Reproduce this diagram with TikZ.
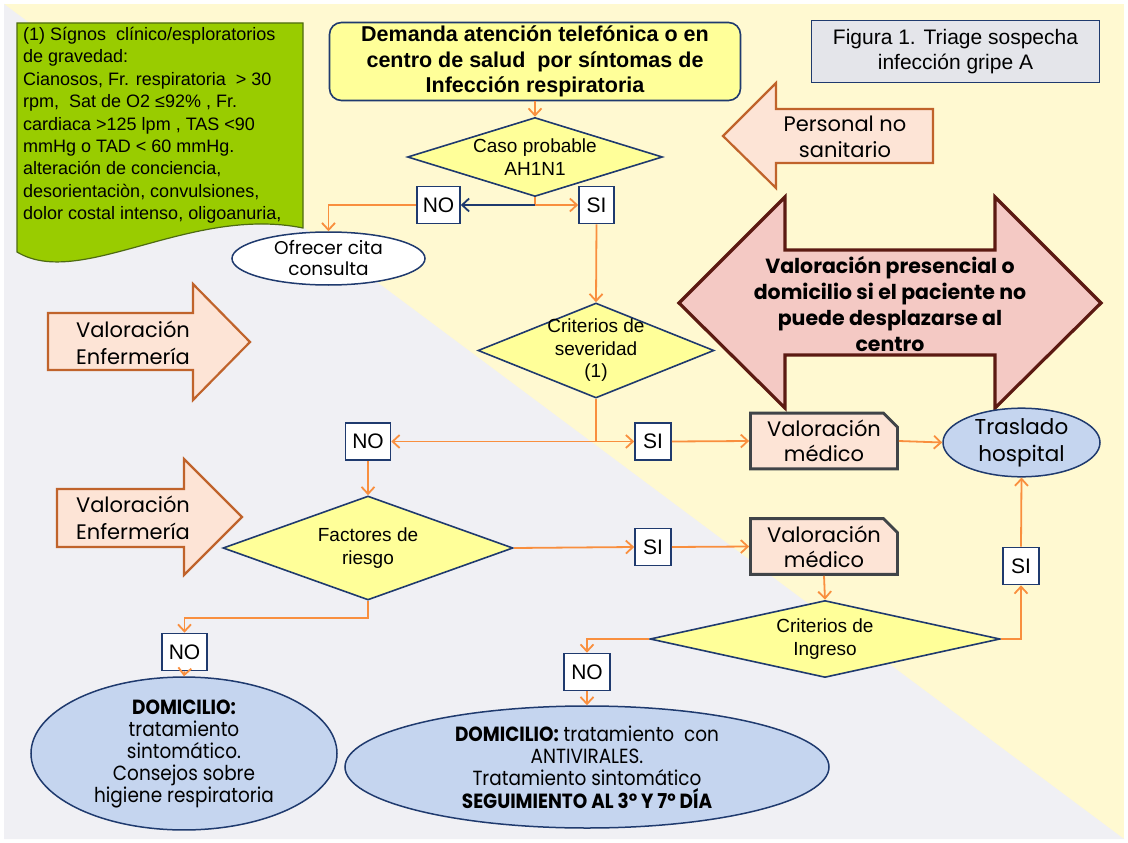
\documentclass[tikz,border=0pt]{standalone}
\usepackage{fontspec}
\setmainfont{Liberation Sans}
\newfontfamily\gothic{Poppins}
\newfontfamily\gothcond[FakeStretch=0.9]{Poppins}
\usetikzlibrary{arrows.meta,shapes.geometric,shapes.misc}
\definecolor{bgyel}{HTML}{FFF9D1}
\definecolor{bggray}{HTML}{F0F0F4}
\definecolor{navy}{HTML}{1F3A6E}
\definecolor{flowor}{HTML}{F98F3E}
\definecolor{diayel}{HTML}{FFFF99}
\definecolor{signgreen}{HTML}{99CC00}
\definecolor{signbord}{HTML}{4E6B12}
\definecolor{peach}{HTML}{FDE4D6}
\definecolor{arrbord}{HTML}{C0632B}
\definecolor{pinkarr}{HTML}{F4C9C4}
\definecolor{pinkbord}{HTML}{5C1A12}
\definecolor{ellblue}{HTML}{C5D5EF}
\definecolor{figgray}{HTML}{E4E5EA}
\definecolor{medbord}{HTML}{404448}

\begin{document}
\begin{tikzpicture}[x=1pt,y=-1pt,
  flow/.style={draw=flowor, line width=1.8pt, -{Straight Barb[length=7pt,width=13pt]}},
  flowline/.style={draw=flowor, line width=1.8pt},
  flowblue/.style={draw=navy, line width=1.8pt, -{Straight Barb[length=7pt,width=13pt]}},
  decision/.style={diamond, aspect=3, draw=navy, fill=diayel, line width=1.6pt,
    inner sep=-5pt, align=center, font=\fontsize{19}{22.5}\selectfont},
  answer/.style={rectangle, draw=navy, fill=white, line width=1.6pt, inner sep=0pt,
    minimum height=37pt, font=\fontsize{21}{25}\selectfont},
  outcome/.style={ellipse, draw=navy, fill=ellblue, line width=1.5pt, inner sep=0pt, align=center},
  medico/.style={chamfered rectangle, chamfered rectangle corners=north east,
    chamfered rectangle xsep=7pt, chamfered rectangle ysep=7pt, draw=medbord, fill=peach,
    line width=2.8pt, minimum width=147pt, minimum height=54pt, inner sep=0pt,
    align=center, font=\gothic\fontsize{21}{25}\selectfont},
  blockarrow/.style={fill=peach, draw=arrbord, line width=2.2pt, line join=miter},
  arrowtxt/.style={align=center, font=\gothic\fontsize{21}{27}\selectfont}]
\useasboundingbox (0,0) rectangle (1128,843);
% ---------------- background ----------------
\fill[white] (0,0) rectangle (1128,843);
\fill[bgyel] (4,4) rectangle (1124,839);
\fill[bggray] (4,4) -- (1124,839) -- (4,839) -- cycle;
% ---------------- side notes ----------------
\filldraw[fill=signgreen, draw=signbord, line width=1.2pt]
  (17,23) -- (303,23) -- (303,228) .. controls (190,205) and (80,290) .. (17,252) -- cycle;
\node[anchor=north west, inner sep=0pt, align=left, font=\fontsize{18}{22.4}\selectfont]
  (signos) at (23,27)
  {(1) Sígnos \ clínico/esploratorios\\
   de gravedad:\\
   Cianosos, Fr. respiratoria \ > 30\\
   rpm, \ Sat de O2 ≤92\% , Fr.\\
   cardiaca >125 lpm , TAS <90\\
   mmHg o TAD < 60 mmHg.\\
   alteración de conciencia,\\
   desorientaciòn, convulsiones,\\
   dolor costal intenso, oligoanuria,};
\node[rectangle, draw=navy, fill=figgray, line width=1.6pt, minimum width=288pt,
  minimum height=62pt, align=center, font=\fontsize{21}{25}\selectfont]
  (figura) at (955.5,51.5) {Figura 1. Triage sospecha\\infección gripe A};
% block arrows
\filldraw[blockarrow] (723,136) -- (776,83) -- (776,109) -- (933,109) -- (933,163)
  -- (776,163) -- (776,188) -- cycle;
\node[arrowtxt, font=\gothic\fontsize{21}{26}\selectfont] (nosanit) at (845,137)
  {Personal no\\sanitario};
\filldraw[blockarrow] (48,313) -- (193,313) -- (193,284) -- (250,342) -- (193,400)
  -- (193,370) -- (48,370) -- cycle;
\node[arrowtxt] (enfer1) at (133,343) {Valoración\\Enfermería};
\filldraw[blockarrow] (57,489) -- (184,489) -- (184,459) -- (242,517) -- (184,575)
  -- (184,547) -- (57,547) -- cycle;
\node[arrowtxt] (enfer2) at (133,518) {Valoración\\Enfermería};
\filldraw[fill=pinkarr, draw=pinkbord, line width=3.2pt, line join=miter]
  (679,303) -- (785,197) -- (785,250) -- (995,250) -- (995,197) -- (1101,303)
  -- (995,408) -- (995,355) -- (785,355) -- (785,408) -- cycle;
\node[align=center, font=\gothic\bfseries\fontsize{20.5}{26}\selectfont] (presencial)
  at (890,304) {Valoración presencial o\\domicilio si el paciente no\\
  puede desplazarse al\\centro};
% ---------------- flow nodes ----------------
\node[rectangle, rounded corners=12pt, draw=navy, fill=diayel, line width=1.6pt,
  minimum width=411pt, minimum height=78pt, align=center,
  font=\bfseries\fontsize{21.5}{25.5}\selectfont]
  (demanda) at (535,61.5) {Demanda atención telefónica o en\\
  centro de salud \ por síntomas de\\Infección respiratoria};
\node[decision, minimum width=255pt, minimum height=79pt] (caso) at (535,157)
  {Caso probable\\AH1N1};
\node[answer, minimum width=43pt] (no1) at (438.5,205) {NO};
\node[answer, minimum width=35pt] (si1) at (596.5,205) {SI};
\node[ellipse, draw=navy, fill=white, line width=1.5pt, inner sep=0pt,
  minimum width=193pt, minimum height=53pt, align=center,
  font=\gothic\fontsize{18.5}{21}\selectfont]
  (cita) at (328.5,258.5) {Ofrecer cita\\consulta};
\node[decision, inner sep=-9pt, minimum width=236pt, minimum height=95pt] (severidad)
  at (596,350.5) {Criterios de\\severidad\\(1)};
\node[answer, minimum width=45pt] (no2) at (368,441.5) {NO};
\node[answer, minimum width=36pt] (si2) at (653,441.5) {SI};
\node[medico] (medico1) at (824,441) {Valoración\\médico};
\node[outcome, minimum width=157pt, minimum height=52pt,
  font=\gothic\fontsize{21.5}{27}\selectfont]
  (traslado) at (1021.5,442.5) {Traslado\\hospital};
\node[decision, minimum width=290pt, minimum height=104pt] (factores) at (368,548)
  {Factores de\\riesgo};
\node[answer, minimum width=36pt] (si3) at (653,547) {SI};
\node[medico] (medico2) at (824,546.5) {Valoración\\médico};
\node[decision, minimum width=350pt, minimum height=77pt] (ingreso) at (825,639)
  {Criterios de\\Ingreso};
\node[answer, minimum width=36pt] (si4) at (1021,566) {SI};
\node[answer, minimum width=45pt] (no4) at (184.5,652) {NO};
\node[answer, minimum width=46pt] (no5) at (587,672) {NO};
\node[outcome, minimum width=306pt, minimum height=131pt,
  font=\gothcond\fontsize{20.5}{22}\selectfont]
  (domicilio1) at (184,753.5) {\textbf{DOMICILIO:}\\tratamiento\\sintomático.\\
  Consejos sobre\\higiene respiratoria};
\node[outcome, minimum width=484pt, minimum height=122pt,
  font=\gothcond\fontsize{20.5}{22.3}\selectfont]
  (domicilio2) at (587,767) {\textbf{DOMICILIO:} tratamiento \ con\\ANTIVIRALES.\\
  Tratamiento sintomático\\\textbf{SEGUIMIENTO AL 3º Y 7º DÍA}};
% ---------------- connectors ----------------
\coordinate (j1) at (535,205);
\coordinate (j2) at (596,441.5);
\draw[flow] (demanda) -- (caso);
\draw[flowline] (caso.south) -- (j1);
\draw[flowblue] (j1) -- (no1.east);
\draw[flow] (j1) -- (si1.west);
\draw[flow] (no1.west) -| (cita.north);
\draw[flow] (si1.south) -- (severidad.north);
\draw[flowline] (severidad.south) -- (j2);
\draw[flow] (j2) -- (no2.east);
\draw[flow] (j2) -- (si2.west);
\draw[flow] (si2.east) -- (medico1.west);
\draw[flow] (medico1.east) -- (traslado.west);
\draw[flow] (no2.south) -- (factores.north);
\draw[flow] (factores.east) -- (si3.west);
\draw[flow] (si3.east) -- (medico2.west);
\draw[flow] (factores.south) -- ++(0,17) -| (no4.north);
\draw[flow] (no4.south) -- (domicilio1.north);
\draw[flow] (medico2.south) -- (ingreso.north);
\draw[flow] (ingreso.west) -| (no5.north);
\draw[flow] (no5.south) -- (domicilio2.north);
\draw[flow] (ingreso.east) -| (si4.south);
\draw[flow] (si4.north) -- (traslado.south);
\end{tikzpicture}
\end{document}
